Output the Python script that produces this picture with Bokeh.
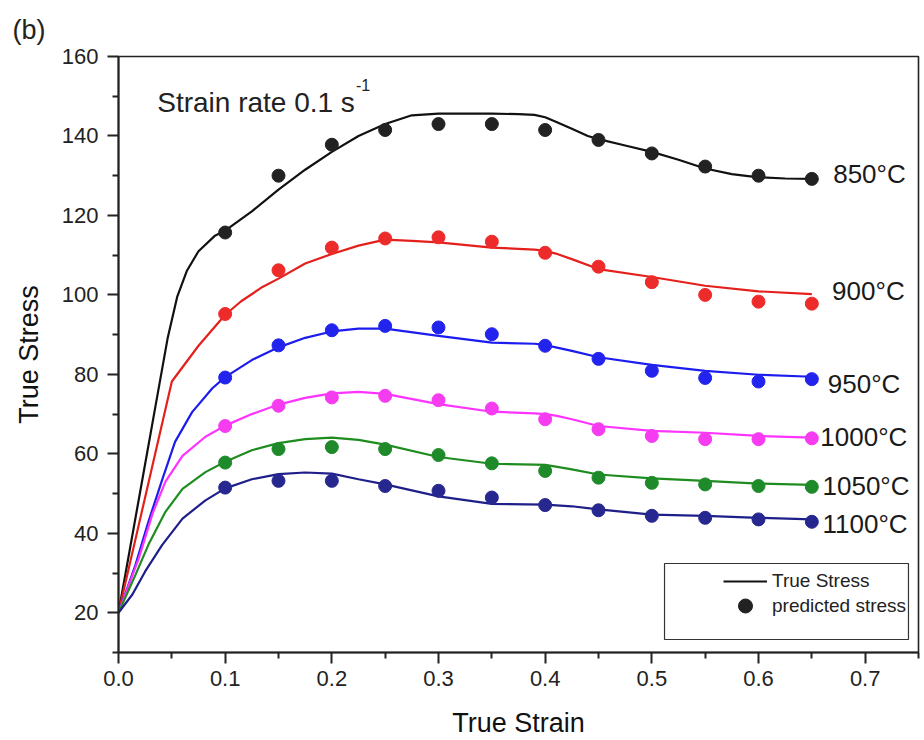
from bokeh.plotting import figure
from bokeh.models import (Range1d, FixedTicker, Legend, LegendItem, Label, Title,
                          BoxAnnotation, PrintfTickFormatter, ColumnDataSource)
from bokeh.core.properties import value
from bokeh.embed import file_html
from bokeh.resources import INLINE

FONT = "Liberation Sans"

# ---------------- data ----------------
temps = ["850°C", "900°C", "950°C", "1000°C", "1050°C", "1100°C"]

# predicted stress (dots)
strain_pts = [0.10, 0.15, 0.20, 0.25, 0.30, 0.35, 0.40, 0.45, 0.50, 0.55, 0.60, 0.65]
pred_850 = [115.7, 130.0, 137.8, 141.5, 143.0, 143.0, 141.5, 139.0, 135.6, 132.3, 130.0, 129.2]
pred_900 = [95.2, 106.2, 111.9, 114.2, 114.5, 113.4, 110.6, 107.1, 103.2, 100.0, 98.3, 97.8]
pred_950 = [79.2, 87.3, 91.1, 92.2, 91.8, 90.1, 87.2, 83.9, 80.9, 79.1, 78.2, 78.8]
pred_1000 = [67.0, 72.1, 74.2, 74.6, 73.5, 71.4, 68.7, 66.2, 64.5, 63.7, 63.7, 63.9]
pred_1050 = [57.8, 61.2, 61.7, 61.2, 59.7, 57.6, 55.7, 54.0, 52.7, 52.3, 51.9, 51.7]
pred_1100 = [51.5, 53.2, 53.2, 51.9, 50.7, 49.0, 47.1, 45.8, 44.4, 43.9, 43.5, 42.9]

# measured true stress curves (lines)
curve_x_850 = [0.0, 0.024, 0.034, 0.046, 0.055, 0.064, 0.075, 0.09, 0.10, 0.125, 0.15,
               0.175, 0.20, 0.225, 0.25, 0.275, 0.30, 0.325, 0.35, 0.375, 0.39, 0.40, 0.41,
               0.425, 0.44, 0.45, 0.475, 0.50, 0.525, 0.55, 0.575, 0.60, 0.625, 0.65]
curve_y_850 = [20.0, 56.0, 71.0, 89.0, 99.5, 106.0, 111.0, 114.8, 116.2, 121.0, 126.5,
               131.5, 136.0, 140.0, 143.0, 145.2, 145.6, 145.6, 145.6, 145.5, 145.3, 144.7, 143.6,
               141.8, 140.0, 139.2, 137.6, 136.0, 134.0, 131.8, 130.4, 129.6, 129.3, 129.2]

curve_x_900 = [0.0, 0.05, 0.075, 0.10, 0.115, 0.135, 0.15, 0.175, 0.20, 0.225, 0.25, 0.275,
               0.30, 0.35, 0.39, 0.40, 0.41, 0.425, 0.45, 0.50, 0.55, 0.60, 0.65]
curve_y_900 = [20.0, 78.2, 87.2, 95.0, 98.4, 102.0, 104.1, 107.9, 110.3, 112.4, 113.9, 113.6,
               113.2, 111.9, 111.4, 111.1, 110.4, 109.0, 106.5, 104.5, 102.3, 100.9, 100.2]

curve_x_950 = [0.0, 0.016, 0.028, 0.041, 0.053, 0.069, 0.088, 0.10, 0.125, 0.15, 0.175, 0.20,
               0.225, 0.25, 0.30, 0.35, 0.39, 0.40, 0.41, 0.425, 0.45, 0.50, 0.55, 0.60, 0.65]
curve_y_950 = [20.0, 32.1, 42.9, 53.5, 63.0, 70.5, 76.5, 79.3, 83.6, 86.8, 89.2, 90.8,
               91.5, 91.5, 89.7, 88.0, 87.7, 87.4, 86.8, 85.9, 84.3, 82.4, 80.9, 79.9, 79.4]

curve_x_1000 = [0.0, 0.019, 0.032, 0.044, 0.060, 0.0815, 0.10, 0.125, 0.15, 0.175, 0.20, 0.225,
                0.25, 0.30, 0.35, 0.39, 0.40, 0.41, 0.425, 0.45, 0.50, 0.55, 0.60, 0.65]
curve_y_1000 = [20.0, 33.7, 45.0, 53.0, 59.5, 64.3, 67.1, 70.0, 72.4, 74.1, 75.2, 75.6,
                75.1, 72.5, 70.6, 70.2, 70.0, 69.6, 68.7, 67.0, 65.8, 65.3, 64.5, 64.1]

curve_x_1050 = [0.0, 0.016, 0.028, 0.044, 0.060, 0.0815, 0.10, 0.125, 0.15, 0.175, 0.20, 0.225,
                0.25, 0.30, 0.35, 0.39, 0.40, 0.41, 0.425, 0.45, 0.50, 0.55, 0.60, 0.65]
curve_y_1050 = [20.0, 29.6, 37.1, 45.4, 51.2, 55.4, 58.0, 60.9, 62.7, 63.7, 64.1, 63.5,
                62.3, 59.2, 57.5, 57.3, 57.2, 56.8, 56.1, 54.8, 53.8, 53.2, 52.5, 52.2]

curve_x_1100 = [0.0, 0.013, 0.025, 0.041, 0.060, 0.0815, 0.10, 0.125, 0.15, 0.175, 0.20, 0.225,
                0.25, 0.30, 0.35, 0.40, 0.425, 0.45, 0.50, 0.55, 0.60, 0.65]
curve_y_1100 = [20.0, 24.6, 30.4, 37.1, 43.7, 48.3, 51.3, 53.6, 54.9, 55.3, 55.0, 53.6,
                52.3, 49.3, 47.4, 47.2, 46.8, 46.0, 44.7, 44.4, 43.9, 43.5]

x_ticks = [0.0, 0.1, 0.2, 0.3, 0.4, 0.5, 0.6, 0.7]
x_minor = [0.05, 0.15, 0.25, 0.35, 0.45, 0.55, 0.65, 0.75]
y_ticks = [20, 40, 60, 80, 100, 120, 140, 160]
y_minor = [10, 30, 50, 70, 90, 110, 130, 150]

# label placement for temperature annotations
label_x = [0.670, 0.669, 0.665, 0.658, 0.660, 0.660]
label_y = [130.5, 101.1, 77.6, 64.2, 52.0, 42.4]

line_colors = ["#111111", "#e4201c", "#1c1cee", "#ff33ff", "#1e8c1e", "#1f1f8a"]
dot_colors = ["#222222", "#ee2b2b", "#2323ee", "#f53cf0", "#1f8a2a", "#272790"]

curves_x = [curve_x_850, curve_x_900, curve_x_950, curve_x_1000, curve_x_1050, curve_x_1100]
curves_y = [curve_y_850, curve_y_900, curve_y_950, curve_y_1000, curve_y_1050, curve_y_1100]
preds = [pred_850, pred_900, pred_950, pred_1000, pred_1050, pred_1100]

# ---------------- figure ----------------
p = figure(width=924, height=740, output_backend="svg", toolbar_location=None,
           x_range=Range1d(0, 0.75), y_range=Range1d(10, 160),
           min_border_left=118, min_border_right=6, min_border_top=56, min_border_bottom=88,
           background_fill_color="white", border_fill_color="white")
p.xgrid.visible = False
p.ygrid.visible = False
p.outline_line_color = "#222222"
p.outline_line_width = 1.6

p.xaxis.ticker = FixedTicker(ticks=x_ticks, minor_ticks=x_minor)
p.yaxis.ticker = FixedTicker(ticks=y_ticks, minor_ticks=y_minor)
p.xaxis.formatter = PrintfTickFormatter(format="%.1f")
p.yaxis.formatter = PrintfTickFormatter(format="%d")
p.xaxis.axis_label = "True Strain"
p.yaxis.axis_label = "True Stress"

for ax in (p.xaxis[0], p.yaxis[0]):
    ax.axis_line_width = 2
    ax.axis_line_color = "#222222"
    ax.major_tick_line_width = 2
    ax.minor_tick_line_width = 2
    ax.major_tick_line_color = "#222222"
    ax.minor_tick_line_color = "#222222"
    ax.major_tick_out = 11
    ax.major_tick_in = 0
    ax.minor_tick_out = 6
    ax.minor_tick_in = 0
    ax.major_label_text_font = FONT
    ax.major_label_text_font_size = "22px"
    ax.major_label_text_color = "#222222"
    ax.axis_label_text_font = FONT
    ax.axis_label_text_font_size = "27px"
    ax.axis_label_text_font_style = "normal"
    ax.axis_label_text_color = "#111111"

p.xaxis.major_label_standoff = 7
p.xaxis.axis_label_standoff = 19
p.yaxis.major_label_standoff = 9
p.yaxis.axis_label_standoff = 15

line_renderers = []
for cx, cy, col in zip(curves_x, curves_y, line_colors):
    line_renderers.append(p.line(cx, cy, line_color=col, line_width=2.2))

dot_renderers = []
for pr, col in zip(preds, dot_colors):
    dot_renderers.append(p.scatter(strain_pts, pr, size=13, fill_color=col, line_color=col))

src_lab = ColumnDataSource(dict(x=label_x, y=label_y, t=temps))
p.text(x="x", y="y", text="t", source=src_lab, text_font=value(FONT), text_font_size="26px",
       text_color="#1a1a1a", text_align="left", text_baseline="middle")

# annotations
p.add_layout(Title(text="(b)", align="left", offset=-106, text_font=FONT, text_font_size="27px",
                   text_font_style="normal", text_color="#222222", standoff=22,
                   vertical_align="middle"), "above")
p.add_layout(Label(x=0.0363, y=148.36, text="Strain rate 0.1 s", text_font=FONT,
                   text_font_size="28px", text_color="#222222", text_baseline="alphabetic"))
p.add_layout(Label(x=0.2227, y=154.4, text="-1", text_font=FONT, text_font_size="16px",
                   text_color="#222222", text_baseline="top"))

# legend
common = dict(padding=0, margin=0, spacing=0, glyph_width=44, label_standoff=5,
              border_line_alpha=0, background_fill_alpha=0, label_text_font=FONT,
              label_text_font_size="19px", label_text_color="#222222")
leg1 = Legend(items=[LegendItem(label="True Stress", renderers=[line_renderers[0]])],
              location=(605, 60.3), glyph_height=20, label_height=20, **common)
leg2 = Legend(items=[LegendItem(label="predicted stress", renderers=[dot_renderers[0]])],
              location=(605, 28.8), glyph_height=35, label_height=20, **common)
p.add_layout(leg1)
p.add_layout(leg2)
p.add_layout(BoxAnnotation(left=0.5119, right=0.7406, bottom=13.27, top=32.4,
                           fill_alpha=0, line_color="#333333", line_alpha=1,
                           line_width=1.2, line_dash="solid"))

open("out.html", "w").write(file_html(p, INLINE))
